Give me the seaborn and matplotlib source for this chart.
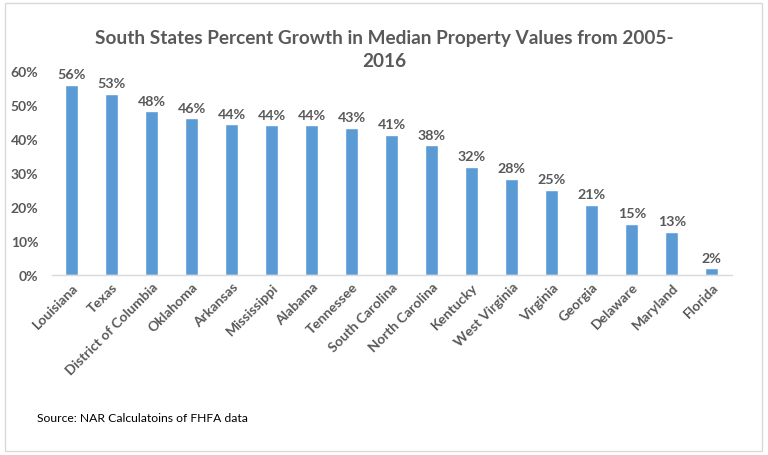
import matplotlib
matplotlib.use("Agg")
import matplotlib.pyplot as plt
import seaborn as sns
import pandas as pd
from matplotlib.patches import Rectangle

# data ---------------------------------------------------------------
states = ['Louisiana', 'Texas', 'District of Columbia', 'Oklahoma', 'Arkansas',
          'Mississippi', 'Alabama', 'Tennessee', 'South Carolina', 'North Carolina',
          'Kentucky', 'West Virginia', 'Virginia', 'Georgia', 'Delaware',
          'Maryland', 'Florida']
growth = [55.9, 53.2, 48.1, 46.1, 44.3, 44.0, 44.0, 43.2, 41.1, 38.1,
          31.8, 28.2, 25.0, 20.6, 15.0, 12.7, 1.9]
yticks = [0, 10, 20, 30, 40, 50, 60]

title = 'South States Percent Growth in Median Property Values from 2005-\n2016'
source = 'Source: NAR Calculatoins of FHFA data'

# style --------------------------------------------------------------
sns.set_style('white')
plt.rcParams['font.family'] = ['Lato', 'DejaVu Sans']
text_col = '#595959'
bar_col = '#5B9BD5'

df = pd.DataFrame({'state': states, 'growth': growth})

fig = plt.figure(figsize=(7.68, 4.56), dpi=100)
ax = fig.add_axes([0.068, 0.395, 0.885, 0.447])

sns.barplot(data=df, x='state', y='growth', color=bar_col, width=0.32,
            saturation=1, ax=ax)

for i, v in enumerate(growth):
    ax.text(i, v + 1.4, f"{round(v):.0f}%", ha='center', va='bottom',
            fontsize=10.3, fontweight='bold', color=text_col)

ax.set_ylim(0, 60)
ax.set_xlim(-0.48, len(states) - 0.5)
ax.set_yticks(yticks)
ax.set_yticklabels([f"{t}%" for t in yticks], fontsize=10, fontweight='bold', color=text_col)
ax.set_xticks(range(len(states)))
ax.set_xticklabels(states, rotation=45, ha='right', rotation_mode='anchor',
                   fontsize=10, fontweight='bold', color=text_col)
ax.tick_params(axis='both', length=0, pad=4)
ax.tick_params(axis='y', pad=10)
ax.set_xlabel('')
ax.set_ylabel('')

for s in ['top', 'right', 'left']:
    ax.spines[s].set_visible(False)
ax.spines['bottom'].set_color('#D9D9D9')
ax.spines['bottom'].set_linewidth(1)

fig.text(0.5, 0.935, title, ha='center', va='top', fontsize=13.7,
         fontweight='bold', color=text_col, linespacing=1.45)
fig.text(0.048, 0.082, source, ha='left', va='center', fontsize=8.7, color='black')

fig.patches.append(Rectangle((0.006, 0.008), 0.986, 0.984, transform=fig.transFigure,
                             fill=False, edgecolor='#D9D9D9', linewidth=1))

fig.savefig('out.png', dpi=100)
